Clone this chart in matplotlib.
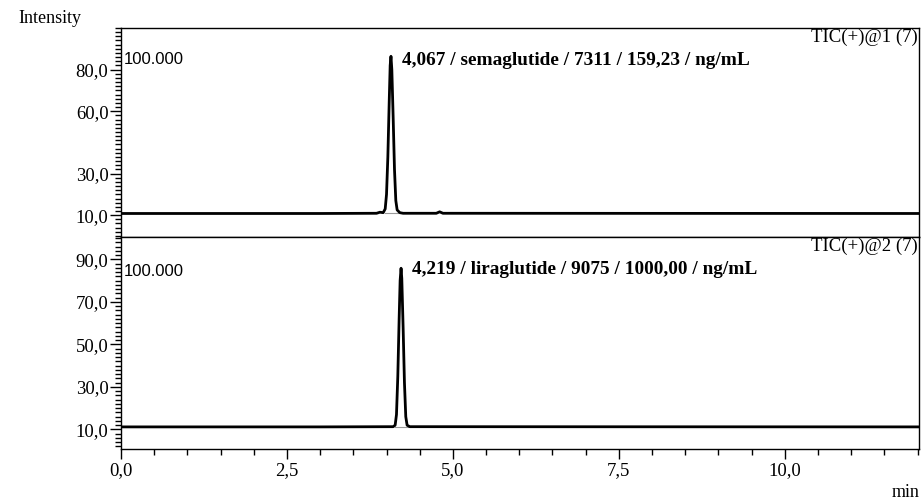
import matplotlib
matplotlib.use("Agg")
import matplotlib.pyplot as plt
from matplotlib.ticker import MultipleLocator, FixedLocator

plt.rcParams['font.family'] = ['Liberation Serif', 'DejaVu Serif']

# trace 1 (semaglutide)
t1 = [0.0, 3.00, 3.85, 3.90, 3.95, 3.98, 4.00, 4.02, 4.04, 4.055, 4.067,
      4.08, 4.10, 4.12, 4.14, 4.16, 4.20, 4.25, 4.75, 4.80, 4.85, 12.0]
i1 = [10.8, 10.8, 10.9, 11.4, 11.2, 13.0, 20.0, 38.0, 64.0, 82.0, 86.4,
      80.0, 57.0, 32.0, 17.0, 12.5, 11.2, 10.9, 10.9, 11.6, 10.9, 10.8]

# trace 2 (liraglutide)
t2 = [0.0, 3.00, 4.10, 4.13, 4.15, 4.17, 4.19, 4.205, 4.219,
      4.23, 4.25, 4.27, 4.29, 4.31, 4.35, 12.0]
i2 = [11.2, 11.2, 11.3, 12.0, 17.0, 35.0, 62.0, 80.0, 85.8,
      81.0, 58.0, 32.0, 16.0, 12.0, 11.3, 11.2]

peak_labels = ["4,067 / semaglutide / 7311 / 159,23 / ng/mL",
               "4,219 / liraglutide / 9075 / 1000,00 / ng/mL"]
trace_names = ["TIC(+)@1 (7)", "TIC(+)@2 (7)"]
ticks1 = [10, 30, 60, 80]
ticks2 = [10, 30, 50, 70, 90]

fig = plt.figure(figsize=(9.22, 5.04), dpi=100)
ax1 = fig.add_axes([0.1312, 0.5298, 0.8655, 0.4146])
ax2 = fig.add_axes([0.1312, 0.1091, 0.8655, 0.4207])

setup = [(ax1, t1, i1, ticks1, (-0.5, 100.0), 4.067, 84.5, (3.97, 4.17), 0.847),
         (ax2, t2, i2, ticks2, (0.8, 100.5), 4.219, 85.0, (4.13, 4.32), 0.835)]

fs = 13.5
for k, (ax, t, y, yt, yl, pk_t, lab_y, base, hy) in enumerate(setup):
    ax.plot(base, [y[0], y[0]], color='#999999', lw=0.8, zorder=1)
    ax.plot(t, y, color='black', lw=2.0, zorder=2)
    ax.set_xlim(0, 12.02)
    ax.set_ylim(*yl)
    ax.yaxis.set_major_locator(FixedLocator(yt))
    ax.yaxis.set_minor_locator(MultipleLocator(2))
    ax.set_yticklabels([f"{v:.1f}".replace('.', ',') for v in yt])
    ax.tick_params(axis='y', which='major', length=8, width=1, labelsize=fs, pad=1)
    ax.tick_params(axis='y', which='minor', length=4.5, width=1)
    for s in ax.spines.values():
        s.set_linewidth(1.0)
    ax.text(0.004, hy, "100.000", transform=ax.transAxes, family='Liberation Sans',
            fontsize=12, va='center', ha='left')
    ax.text(pk_t + 0.16, lab_y, peak_labels[k],
            fontsize=13.9, fontweight='bold', va='center', ha='left')
    ax.text(0.998, 0.995, trace_names[k], transform=ax.transAxes,
            fontsize=fs, va='top', ha='right')

ax1.tick_params(axis='x', which='both', bottom=False, labelbottom=False)
ax2.xaxis.set_major_locator(MultipleLocator(2.5))
ax2.xaxis.set_minor_locator(MultipleLocator(0.5))
ax2.xaxis.set_major_formatter(lambda v, p: f"{v:.1f}".replace('.', ','))
ax2.tick_params(axis='x', which='major', length=7.5, width=1, labelsize=fs, pad=2)
ax2.tick_params(axis='x', which='minor', length=4.5, width=1)

fig.text(0.020, 0.963, "Intensity", fontsize=13, ha='left', va='center')
fig.text(0.997, 0.022, "min", fontsize=13, ha='right', va='center')

fig.savefig("out.png", dpi=100)
